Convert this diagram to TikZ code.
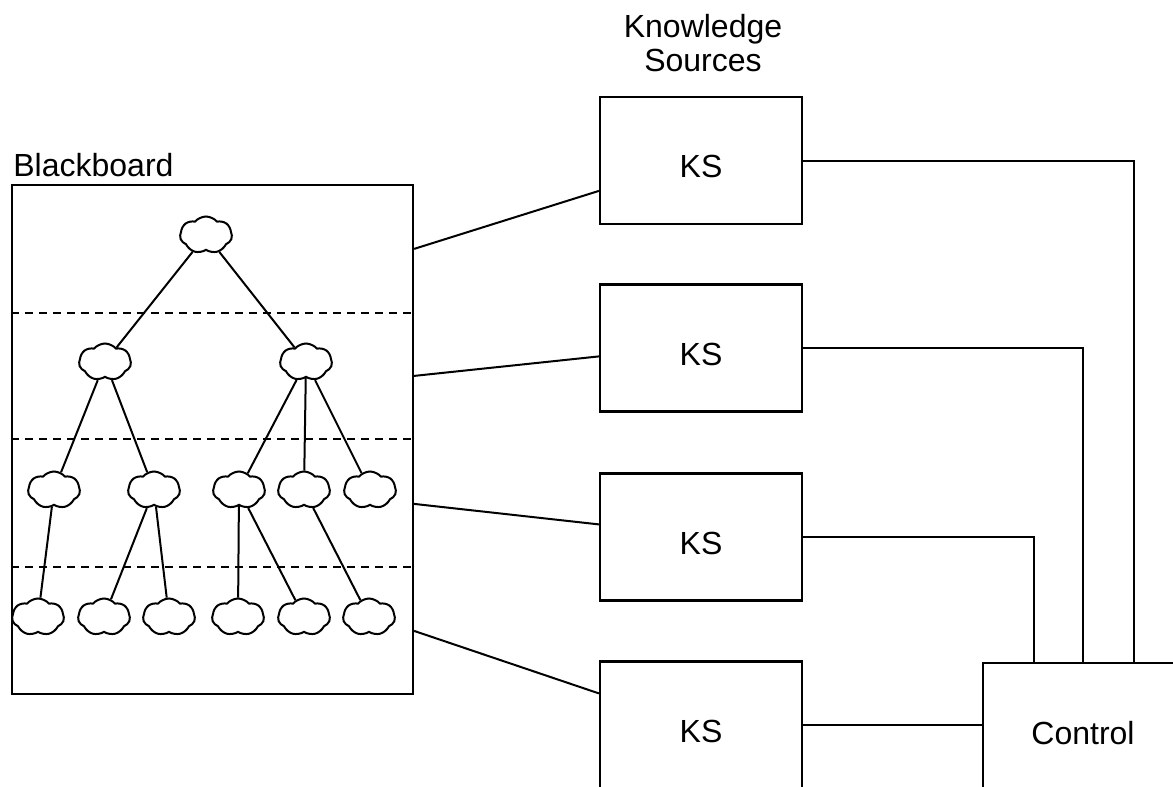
\documentclass[tikz,border=0pt]{standalone}
\usepackage{fontspec}
\setmainfont{Liberation Sans}
\usetikzlibrary{shapes.symbols,calc}
\begin{document}
\begin{tikzpicture}[x=0.5pt,y=-0.5pt, every node/.style={font=\fontsize{16}{17}\selectfont}]
		\tikzstyle{blob}=[cloud,draw,cloud puffs=7,cloud puff arc=100,aspect=1.4,minimum width=26pt,minimum height=18.5pt,inner sep=0pt,line width=1pt]
		\tikzstyle{ks}=[draw,line width=1.1pt,minimum width=101pt,minimum height=63.5pt,text height=17.5pt]
		\clip (0,0) rectangle (1173,787);
		\fill[white] (0,0) rectangle (1173,787);
		% blackboard and its levels
		\node[draw,line width=1.1pt,minimum width=200.5pt,minimum height=254.5pt](bb)at(212.5,439.5){};
		\node[anchor=base west,inner sep=0pt](bbl)at(13,176){Blackboard};
		\foreach \y in {313,439,567}
		\draw[line width=1pt,dash pattern=on 4pt off 3pt] (bb.west |- 0,\y) -- (bb.east |- 0,\y);
		\node[blob](n1)at(206,235){};
		\node[blob](n21)at(105,362){};
		\node[blob](n22)at(306,362){};
		\node[blob](n31)at(54,490){};
		\node[blob](n32)at(154,490){};
		\node[blob](n33)at(239,490){};
		\node[blob](n34)at(304,490){};
		\node[blob](n35)at(370,490){};
		\node[blob](n41)at(38,617){};
		\node[blob](n42)at(104,617){};
		\node[blob](n43)at(169,617){};
		\node[blob](n44)at(238,617){};
		\node[blob](n45)at(304,617){};
		\node[blob](n46)at(369,617){};
		\path[line width=1pt] (n1) edge (n21) edge (n22)
		(n21) edge (n31) edge (n32)
		(n22) edge (n33) edge (n34) edge (n35)
		(n31) edge (n41)
		(n32) edge (n42) edge (n43)
		(n33) edge (n44) edge (n45)
		(n34) edge (n46);
		% knowledge sources and control
		\node[align=center](ksl)at(703,43.5){Knowledge\\Sources};
		\node[ks](ks1)at(701,160.5){KS};
		\node[ks](ks2)at(701,348){KS};
		\node[ks](ks3)at(701,537){KS};
		\node[ks](ks4)at(701,725){KS};
		\node[draw,line width=1.1pt,minimum width=100pt,minimum height=70pt](ctrl)at(1083,733){Control};
		\path[line width=1pt] ($(bb.north east)+(0,65)$) edge ($(ks1.north west)+(0,95)$)
		($(bb.north east)+(0,192)$) edge ($(ks2.north west)+(0,73)$)
		($(bb.north east)+(0,320)$) edge ($(ks3.north west)+(0,52)$)
		($(bb.north east)+(0,447)$) edge ($(ks4.north west)+(0,33)$);
		\draw[line width=1pt] (ks1.east) -| ($(ctrl.north)+(51,0)$);
		\draw[line width=1pt] (ks2.east) -| (ctrl.north);
		\draw[line width=1pt] (ks3.east) -| ($(ctrl.north)+(-49,0)$);
		\draw[line width=1pt] (ks4.east) -- (ks4.east -| ctrl.west);
		\end{tikzpicture}
\end{document}
